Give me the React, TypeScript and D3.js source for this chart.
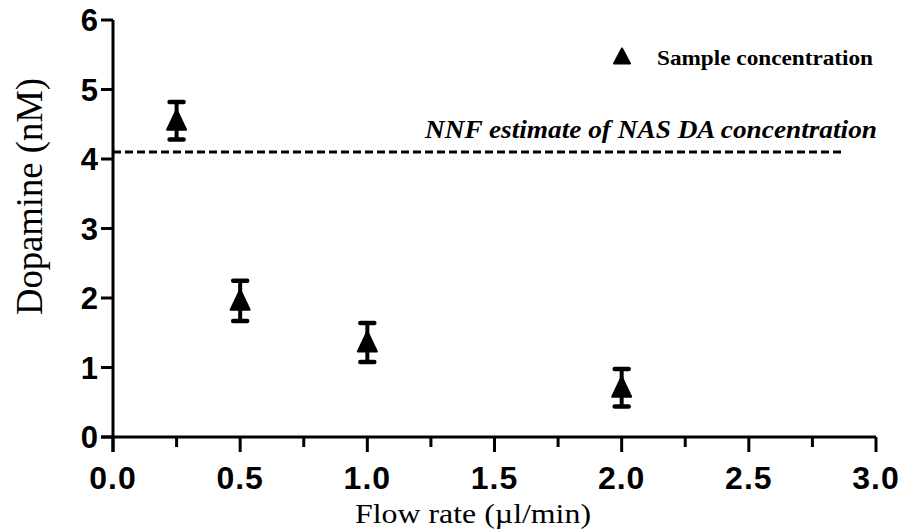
import React, { useEffect, useRef } from "react";
import * as d3 from "d3";

const flowRates = [0.25, 0.5, 1.0, 2.0];
const dopamine = [4.55, 1.96, 1.36, 0.71];
const errors = [0.27, 0.29, 0.28, 0.27];
const nnfEstimate = 4.1;
const nnfRange = [0, 2.87];
const xTicks = [0, 0.5, 1.0, 1.5, 2.0, 2.5, 3.0];
const xMinorTicks = [0.25, 0.75, 1.25, 1.75, 2.25, 2.75];
const yTicks = [0, 1, 2, 3, 4, 5, 6];
const legendLabel = "Sample concentration";
const nnfLabel = "NNF estimate of NAS DA concentration";
const xTitle = "Flow rate (\u00b5l/min)";
const yTitle = "Dopamine (nM)";

export default function App() {
  const ref = useRef<SVGSVGElement>(null);

  useEffect(() => {
    const svg = d3.select(ref.current);
    svg.selectAll("*").remove();

    const x = d3.scaleLinear().domain([0, 3]).range([113, 876]);
    const y = d3.scaleLinear().domain([0, 6]).range([437, 20]);

    const g = svg.append("g");

    // y axis line (extends down to tick length)
    g.append("line")
      .attr("x1", x(0)).attr("x2", x(0))
      .attr("y1", y(6)).attr("y2", 452)
      .attr("stroke", "#000").attr("stroke-width", 3);
    // x axis line
    g.append("line")
      .attr("x1", x(0) - 12).attr("x2", x(3))
      .attr("y1", y(0)).attr("y2", y(0))
      .attr("stroke", "#000").attr("stroke-width", 3);

    // y ticks
    g.selectAll(".yt").data(yTicks).enter().append("line")
      .attr("x1", x(0) - 12).attr("x2", x(0))
      .attr("y1", (d) => y(d)).attr("y2", (d) => y(d))
      .attr("stroke", "#000").attr("stroke-width", 3);
    g.selectAll(".ytl").data(yTicks).enter().append("text")
      .attr("x", 98).attr("y", (d) => y(d))
      .attr("dy", "0.36em")
      .attr("text-anchor", "end")
      .attr("font-family", "Liberation Sans, Arial, sans-serif")
      .attr("font-weight", "bold")
      .attr("font-size", 31)
      .text((d) => String(d));

    // x ticks
    g.selectAll(".xt").data(xTicks).enter().append("line")
      .attr("x1", (d) => x(d)).attr("x2", (d) => x(d))
      .attr("y1", y(0)).attr("y2", 452)
      .attr("stroke", "#000").attr("stroke-width", 3);
    g.selectAll(".xmt").data(xMinorTicks).enter().append("line")
      .attr("x1", (d) => x(d)).attr("x2", (d) => x(d))
      .attr("y1", y(0)).attr("y2", 447)
      .attr("stroke", "#000").attr("stroke-width", 3);
    g.selectAll(".xtl").data(xTicks).enter().append("text")
      .attr("x", (d) => x(d)).attr("y", 489)
      .attr("text-anchor", "middle")
      .attr("font-family", "Liberation Sans, Arial, sans-serif")
      .attr("font-weight", "bold")
      .attr("font-size", 32)
      .attr("letter-spacing", 1)
      .text((d) => d.toFixed(1));

    // axis titles
    g.append("text")
      .attr("x", 355).attr("y", 523)
      .attr("font-family", "Liberation Serif, Times New Roman, serif")
      .attr("font-size", 28)
      .attr("textLength", 236)
      .attr("lengthAdjust", "spacingAndGlyphs")
      .text(xTitle);
    g.append("text")
      .attr("transform", `translate(42, ${315}) rotate(-90)`)
      .attr("font-family", "Liberation Serif, Times New Roman, serif")
      .attr("font-size", 38)
      .attr("textLength", 237)
      .attr("lengthAdjust", "spacingAndGlyphs")
      .text(yTitle);

    // dashed NNF line
    g.append("line")
      .attr("x1", x(nnfRange[0])).attr("x2", x(nnfRange[1]))
      .attr("y1", y(nnfEstimate)).attr("y2", y(nnfEstimate))
      .attr("stroke", "#000").attr("stroke-width", 3)
      .attr("stroke-dasharray", "8,4");
    g.append("text")
      .attr("x", 425).attr("y", 138)
      .attr("font-family", "Liberation Serif, Times New Roman, serif")
      .attr("font-style", "italic")
      .attr("font-weight", "bold")
      .attr("font-size", 25)
      .attr("textLength", 452)
      .attr("lengthAdjust", "spacingAndGlyphs")
      .text(nnfLabel);

    // error bars
    const eb = g.selectAll(".eb").data(flowRates.map((f, i) => ({ f, v: dopamine[i], e: errors[i] })))
      .enter().append("g");
    eb.append("line")
      .attr("x1", (d) => x(d.f)).attr("x2", (d) => x(d.f))
      .attr("y1", (d) => y(d.v + d.e)).attr("y2", (d) => y(d.v - d.e))
      .attr("stroke", "#000").attr("stroke-width", 4);
    eb.append("line")
      .attr("x1", (d) => x(d.f) - 7).attr("x2", (d) => x(d.f) + 7)
      .attr("y1", (d) => y(d.v + d.e)).attr("y2", (d) => y(d.v + d.e))
      .attr("stroke", "#000").attr("stroke-width", 4.5).attr("stroke-linecap", "round");
    eb.append("line")
      .attr("x1", (d) => x(d.f) - 7).attr("x2", (d) => x(d.f) + 7)
      .attr("y1", (d) => y(d.v - d.e)).attr("y2", (d) => y(d.v - d.e))
      .attr("stroke", "#000").attr("stroke-width", 4.5).attr("stroke-linecap", "round");

    // triangle markers
    const tri = (cx: number, cy: number, w: number, h: number) =>
      `M${cx},${cy - h / 2} L${cx + w / 2},${cy + h / 2} L${cx - w / 2},${cy + h / 2} Z`;
    eb.append("path")
      .attr("d", (d) => tri(x(d.f), y(d.v) - 1, 19, 20))
      .attr("fill", "#000").attr("stroke", "#000")
      .attr("stroke-width", 2).attr("stroke-linejoin", "round");

    // legend
    g.append("path")
      .attr("d", tri(622, 56, 16, 15))
      .attr("fill", "#000").attr("stroke", "#000")
      .attr("stroke-width", 2).attr("stroke-linejoin", "round");
    g.append("text")
      .attr("x", 657).attr("y", 65)
      .attr("font-family", "Liberation Serif, Times New Roman, serif")
      .attr("font-weight", "bold")
      .attr("font-size", 20)
      .attr("textLength", 216)
      .attr("lengthAdjust", "spacingAndGlyphs")
      .text(legendLabel);
  }, []);

  return (
    <svg
      ref={ref}
      width={907}
      height={529}
      style={{ position: "absolute", left: 0, top: 0, background: "#fff" }}
    />
  );
}
